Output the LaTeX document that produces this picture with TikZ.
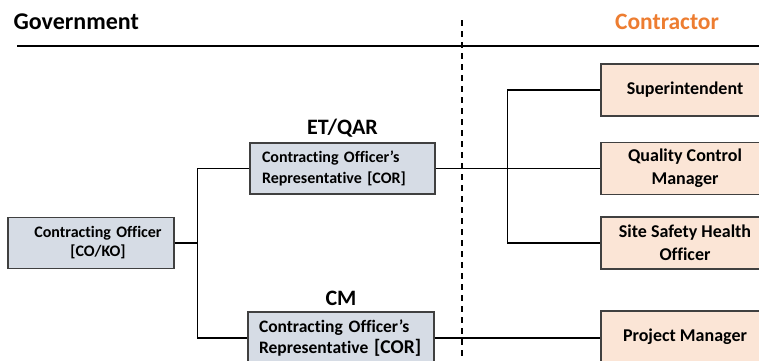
\documentclass[tikz,border=0pt]{standalone}
\usepackage{fontspec}
\setmainfont{Carlito}[Ligatures=NoCommon]
\usetikzlibrary{positioning}
\definecolor{govfill}{HTML}{D6DCE5}
\definecolor{confill}{HTML}{FBE5D6}
\definecolor{conorange}{HTML}{ED7D31}
\definecolor{boxline}{HTML}{404040}
\tikzset{
    govbox/.style={draw=boxline, fill=govfill, line width=1.1pt, minimum height=51pt, font=\bfseries\fontsize{16}{21}\selectfont},
    conbox/.style={draw=boxline, fill=confill, line width=1.1pt, minimum width=168pt, minimum height=52pt, align=center, font=\bfseries\fontsize{18}{23}\selectfont},
    role/.style={font=\bfseries\fontsize{22}{24}\selectfont},
    link/.style={line width=1.6pt}
}
\begin{document}
\begin{tikzpicture}[x=1pt, y=-1pt]
    \useasboundingbox (0,0) rectangle (759,360);
    \clip (0,0) rectangle (759,360);

    \node[anchor=west, font=\bfseries\fontsize{24}{26}\selectfont] (gov) at (10,22) {Government};
    \node[font=\bfseries\fontsize{23.5}{26}\selectfont, text=conorange] (con) at (667,22) {Contractor};
    \draw[line width=2pt] (17,46) -- (759,46);
    \draw[line width=1.5pt, dash pattern=on 6pt off 5pt] (462,20) -- (462,362);

    % government side
    \node[govbox, minimum width=166pt, inner xsep=0pt, text width=166pt, align=center, font=\bfseries\fontsize{16}{19}\selectfont] (co) at (91,243)
        {\hspace*{14pt}Contracting Officer\\\hspace*{14pt}[CO/KO]};
    \node[govbox, inner xsep=12pt, text width=161pt, align=left] (et) at (342.5,168.5)
        {Contracting Officer’s\\Representative [COR]};
    \node[govbox, inner xsep=11pt, text width=164pt, align=left, minimum height=52pt, font=\bfseries\fontsize{17.5}{21}\selectfont] (cm) at (341,338)
        {Contracting Officer’s\\Representative {\fontsize{19.5}{21}\selectfont[COR]}};
    \node[role, above=2pt of et] (etlabel) {ET/QAR};
    \node[role, above=2pt of cm] (cmlabel) {CM};

    % contractor side
    \node[conbox] (sup) at (685,90) {Superintendent};
    \node[conbox] (qcm) at (685,168.5) {Quality Control\\Manager};
    \node[conbox] (ssho) at (685,243) {Site Safety Health\\Officer};
    \node[conbox] (pm) at (685,337) {Project Manager};

    \draw[link] (co.east) -- ++(23,0) coordinate (cojoin);
    \draw[link] (et.west) -| (cojoin) |- (cm.west);
    \draw[link] (et.east) -- (qcm.west);
    \draw[link] (cm.east) -- (pm.west |- cm.east);
    \draw[link] (sup.west) -- ++(-93,0) coordinate (supjoin) -- (supjoin |- ssho.west) -- (ssho.west);
\end{tikzpicture}
\end{document}
